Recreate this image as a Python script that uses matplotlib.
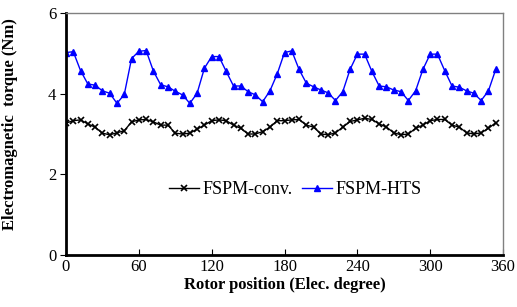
import matplotlib
matplotlib.use("Agg")
import matplotlib.pyplot as plt
import numpy as np

angle = list(range(0, 360, 6))

hts = [5.02, 5.04, 4.57, 4.24, 4.21, 4.07, 4.01, 3.76, 3.98, 4.87,
       5.05, 5.07, 4.56, 4.22, 4.17, 4.06, 3.97, 3.76, 4.01, 4.63,
       4.92, 4.92, 4.55, 4.19, 4.19, 4.05, 3.97, 3.80, 4.07, 4.49,
       5.02, 5.06, 4.60, 4.26, 4.17, 4.09, 4.02, 3.83, 4.05, 4.60,
       4.98, 4.98, 4.55, 4.19, 4.17, 4.09, 4.05, 3.83, 4.07, 4.60,
       4.98, 4.98, 4.57, 4.19, 4.16, 4.07, 4.01, 3.83, 4.07, 4.60]

conv = [3.27, 3.33, 3.35, 3.25, 3.17, 3.02, 2.98, 3.03, 3.08, 3.30,
        3.35, 3.36, 3.30, 3.22, 3.22, 3.02, 3.00, 3.02, 3.12, 3.22,
        3.33, 3.35, 3.33, 3.22, 3.14, 3.00, 3.00, 3.06, 3.17, 3.33,
        3.33, 3.35, 3.36, 3.22, 3.17, 3.00, 2.98, 3.03, 3.17, 3.31,
        3.35, 3.39, 3.36, 3.25, 3.17, 3.03, 2.98, 3.00, 3.14, 3.22,
        3.33, 3.36, 3.36, 3.22, 3.17, 3.03, 3.00, 3.03, 3.14, 3.28]

xticks = [0, 60, 120, 180, 240, 300, 360]
yticks = [0, 2, 4, 6]

plt.rcParams['font.family'] = ['Liberation Serif', 'DejaVu Serif']

fig = plt.figure(figsize=(5.17, 3.07), dpi=100)
ax = fig.add_axes([66/517, 1-255/307, (503-66)/517, (255-13)/307])

ax.plot(angle, conv, color='black', lw=1.0, marker='x', ms=4.5, mew=1.2,
        label='FSPM-conv.')
ax.plot(angle, hts, color='#0000ff', lw=1.0, marker='^', ms=4.5,
        mfc='#0000ff', mec='#0000ff', label='FSPM-HTS')

ax.set_xlim(0, 360)
ax.set_ylim(0, 6)
ax.set_xticks(xticks)
ax.set_yticks(yticks)
ax.tick_params(axis='x', direction='in', length=4, labelsize=12, pad=3)
ax.tick_params(axis='y', direction='out', length=4, labelsize=12, pad=3)
ax.tick_params(top=False, right=False)

for s in ['left', 'bottom']:
    ax.spines[s].set_linewidth(2.0)
    ax.spines[s].set_color('black')
for s in ['top', 'right']:
    ax.spines[s].set_linewidth(1.0)
    ax.spines[s].set_color('#808080')

ax.set_xlabel('Rotor position (Elec. degree)', fontsize=12, fontweight='bold', labelpad=1)
ax.set_ylabel('Electromagnetic  torque (Nm)', fontsize=12, fontweight='bold')
ax.yaxis.set_label_coords(-0.11, 0.54)

ax.legend(loc='center', bbox_to_anchor=(0.525, 0.27), ncol=2, frameon=False,
          fontsize=13, handlelength=1.65, columnspacing=0.55, handletextpad=0.2,
          borderpad=0.2)

fig.savefig('out.png', dpi=100)
